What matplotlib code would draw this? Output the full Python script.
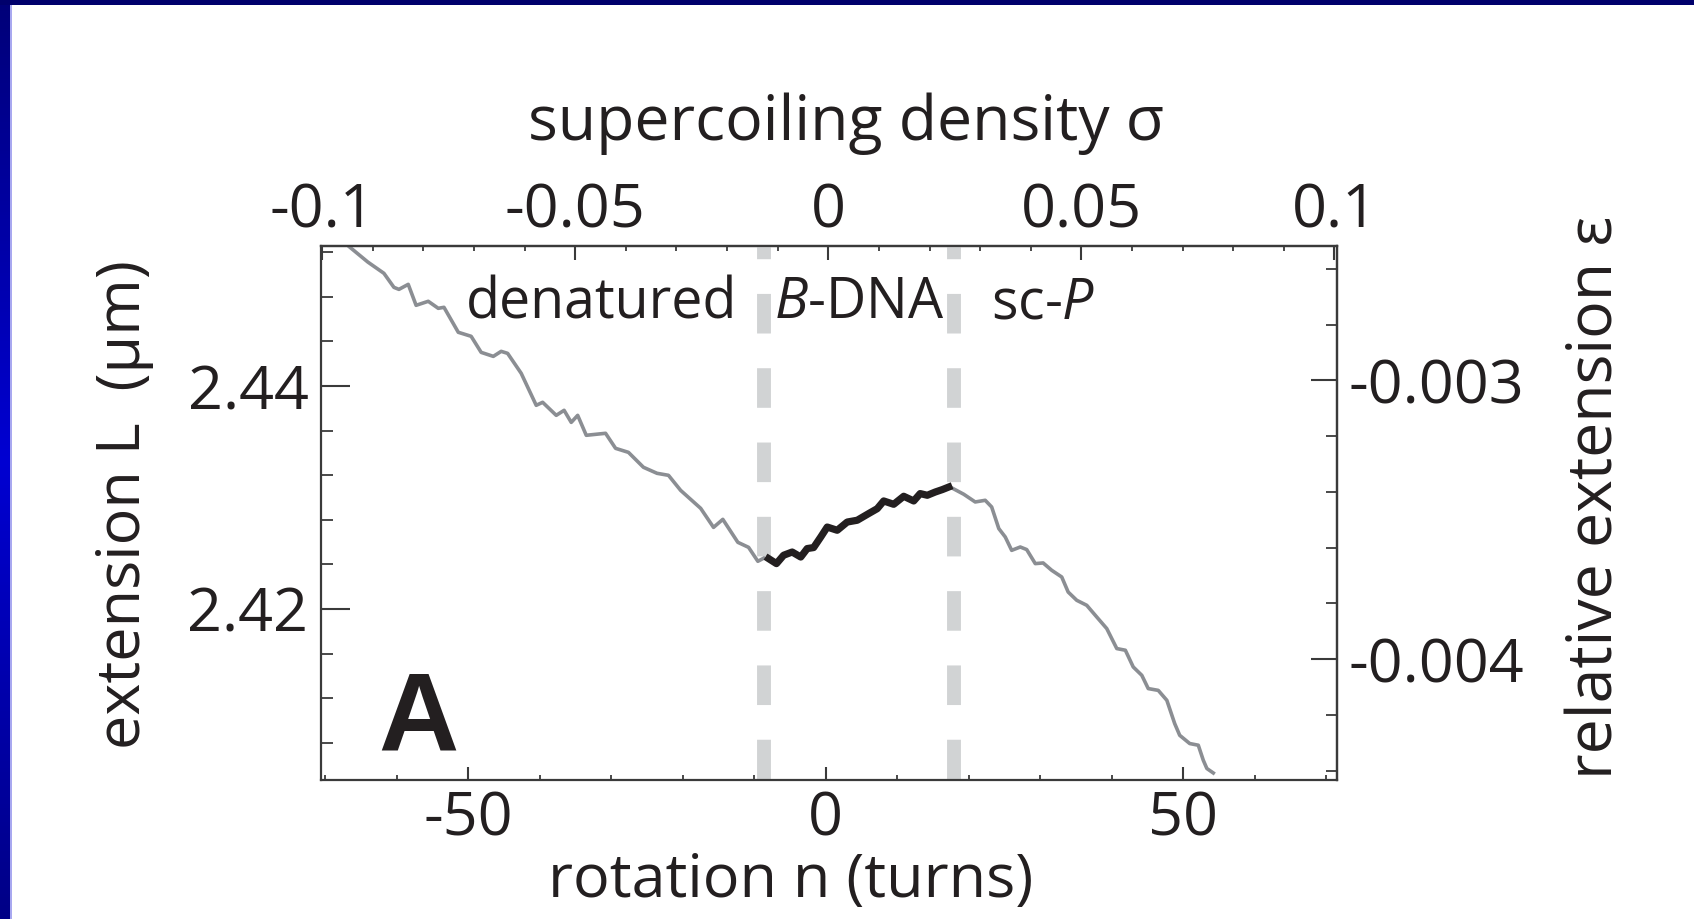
import matplotlib.pyplot as plt
import numpy as np
from matplotlib.colors import LinearSegmentedColormap
from matplotlib.patches import Rectangle
from matplotlib.ticker import MultipleLocator

plt.rcParams['font.family'] = ['Open Sans', 'DejaVu Sans']
plt.rcParams['axes.unicode_minus'] = False
plt.rcParams['mathtext.fontset'] = 'custom'
plt.rcParams['mathtext.rm'] = 'Open Sans'
plt.rcParams['mathtext.it'] = 'Open Sans:italic'

# rotation n (turns) vs extension L (um)
n_denat = [-66.6, -64.05, -61.8, -60.4, -59.7, -58.4, -57.3, -55.6, -54.2, -53.4,
           -51.4, -49.6, -48.2, -46.5, -45.4, -44.5, -42.6, -40.5, -39.6, -37.7,
           -36.6, -35.6, -34.7, -33.5, -30.8, -29.4, -27.6, -25.5, -23.6, -22.0,
           -20.3, -17.5, -15.7, -14.4, -12.3, -10.8, -9.5, -8.7]
L_denat = [2.45247, 2.45112, 2.45011, 2.44885, 2.44867, 2.44912, 2.44724, 2.44760,
           2.44697, 2.44706, 2.44482, 2.44446, 2.44302, 2.44266, 2.44311, 2.44293,
           2.44114, 2.43827, 2.43854, 2.43737, 2.43782, 2.43674, 2.43737, 2.43558,
           2.43576, 2.43441, 2.43405, 2.43271, 2.43217, 2.43199, 2.43064, 2.42903,
           2.42732, 2.42804, 2.42598, 2.42553, 2.42428, 2.42455]

n_bdna = [-8.0, -6.9, -5.9, -4.7, -3.5, -2.6, -1.7, -0.7, 0.2, 1.6, 3.0, 4.4, 6.0,
          7.2, 8.1, 9.5, 10.9, 12.3, 13.2, 14.2, 15.3, 16.3, 17.2]
L_bdna = [2.42452, 2.42407, 2.42482, 2.42511, 2.42466, 2.42542, 2.42551, 2.42646,
          2.42735, 2.42706, 2.42780, 2.42796, 2.42856, 2.42900, 2.42969, 2.42939,
          2.43011, 2.42969, 2.43035, 2.43020, 2.43049, 2.43071, 2.43094]

n_scp = [17.4, 19.3, 20.9, 22.3, 23.2, 24.2, 25.1, 26.0, 27.2, 28.1, 29.3, 30.4,
         31.6, 33.0, 33.9, 35.1, 36.5, 37.9, 39.3, 40.7, 41.9, 43.0, 44.2, 45.1,
         46.5, 47.7, 48.8, 49.5, 50.9, 52.1, 52.8, 53.3, 54.2]
L_scp = [2.43094, 2.43029, 2.42960, 2.42975, 2.42915, 2.42721, 2.42646, 2.42526,
         2.42556, 2.42533, 2.42407, 2.42413, 2.42347, 2.42287, 2.42152, 2.42078,
         2.42033, 2.41928, 2.41824, 2.41645, 2.41630, 2.41480, 2.41405, 2.41286,
         2.41270, 2.41181, 2.40972, 2.40867, 2.40793, 2.40778, 2.40643, 2.40569,
         2.40529]

phase_bounds = [-8.6, 18.0]
phase_names = ['denatured', r'$\mathit{B}$-DNA', r'sc-$\mathit{P}$']
phase_label_x = [0.2766, 0.5295, 0.7106]

sigma_ticks = [-0.1, -0.05, 0, 0.05, 0.1]
sigma_labels = ['-0.1', '-0.05', '0', '0.05', '0.1']
eps_ticks = [-0.003, -0.004]
eps_labels = ['-0.003', '-0.004']


def n_to_sigma(n):
    return (np.asarray(n) - 0.35) / 708.0


def sigma_to_n(s):
    return np.asarray(s) * 708.0 + 0.35


def L_to_eps(L):
    return 0.04 * (np.asarray(L) - 2.5155)


def eps_to_L(e):
    return np.asarray(e) / 0.04 + 2.5155


ink = '#231f20'
W, H = 1694, 919
fig = plt.figure(figsize=(W / 100, H / 100), dpi=100)
fig.patch.set_facecolor('white')

ax = fig.add_axes([321 / W, 1 - 780 / H, 1016 / W, 534 / H])
ax.set_xlim(-70.6, 71.5)
ax.set_ylim(2.40466, 2.45256)

# phase boundaries
for xb in phase_bounds:
    ax.plot([xb, xb], [1, 0], transform=ax.get_xaxis_transform(),
            color='#d1d3d4', lw=10, linestyle=(1.9, (2.85, 2.5)),
            solid_capstyle='butt', dash_capstyle='butt', zorder=1)

ax.plot(n_denat, L_denat, color='#8b8e93', lw=2.6, zorder=2)
ax.plot(n_scp, L_scp, color='#8b8e93', lw=2.6, zorder=2)
ax.plot(n_bdna, L_bdna, color=ink, lw=5.2, zorder=3)

for name, xp in zip(phase_names, phase_label_x):
    ax.text(xp, 0.865, name, transform=ax.transAxes, ha='center',
            va='baseline', fontsize=40, color=ink)

ax.text(0.056, 0.056, 'A', transform=ax.transAxes, ha='left', va='baseline',
        fontsize=80, fontweight='bold', color=ink,
        family=['Liberation Sans Narrow', 'Liberation Sans', 'DejaVu Sans'])

for sp in ax.spines.values():
    sp.set_color('#3a3a3a')
    sp.set_linewidth(1.6)

ax.set_xticks([-50, 0, 50])
ax.xaxis.set_minor_locator(MultipleLocator(10))
ax.set_yticks([2.42, 2.44])
ax.set_yticklabels(['2.42', '2.44'])
ax.yaxis.set_minor_locator(MultipleLocator(0.004))
ax.tick_params(axis='x', which='major', direction='in', length=9.5, width=1.5,
               pad=7, labelsize=44, labelcolor=ink, color='#3a3a3a')
ax.tick_params(axis='x', which='minor', direction='in', length=3.6, width=1.3,
               color='#3a3a3a')
ax.tick_params(axis='y', which='major', direction='in', length=21, width=1.5,
               pad=9, labelsize=44, labelcolor=ink, color='#3a3a3a')
ax.tick_params(axis='y', which='minor', direction='in', length=8.5, width=1.3,
               color='#3a3a3a')

ax.set_xlabel('rotation n (turns)', fontsize=44, color=ink, va='center')
ax.xaxis.set_label_coords(0.4626, -0.19)
ax.set_ylabel('extension L  (µm)', fontsize=44, color=ink, va='center')
ax.yaxis.set_label_coords(-0.194, 0.515)

top = ax.secondary_xaxis('top', functions=(n_to_sigma, sigma_to_n))
top.set_xticks(sigma_ticks, sigma_labels)
top.xaxis.set_minor_locator(MultipleLocator(0.01))
top.tick_params(which='major', direction='in', length=10, width=1.5, pad=3,
                labelsize=44, labelcolor=ink, color='#3a3a3a')
top.tick_params(which='minor', direction='in', length=3.6, width=1.3,
                color='#3a3a3a')
top.spines['top'].set_color('#3a3a3a')
top.spines['top'].set_linewidth(1.6)
top.set_xlabel('supercoiling density σ', fontsize=45, color=ink, va='center')
top.xaxis.set_label_coords(0.517, 1.228, transform=ax.transAxes)

right = ax.secondary_yaxis('right', functions=(L_to_eps, eps_to_L))
right.set_yticks(eps_ticks, eps_labels)
right.yaxis.set_minor_locator(MultipleLocator(0.0002))
right.tick_params(which='major', direction='in', length=18.5, width=1.5, pad=8,
                  labelsize=44, labelcolor=ink, color='#3a3a3a')
right.tick_params(which='minor', direction='in', length=8, width=1.3,
                  color='#3a3a3a')
right.spines['right'].set_color('#3a3a3a')
right.spines['right'].set_linewidth(1.6)
right.set_ylabel('relative extension ε', fontsize=45, color=ink, va='center',
                 rotation=90)
right.yaxis.set_label_coords(1.255, 0.53, transform=ax.transAxes)

# slide frame: blue strip on the left, dark band on top
frame_cmap = LinearSegmentedColormap.from_list(
    'frame', ['#000078', '#0000d2', '#000086'])
strip = fig.add_axes([0, 0, 10 / W, 1])
strip.imshow(np.linspace(0, 1, 256).reshape(-1, 1), cmap=frame_cmap,
             aspect='auto')
strip.set_axis_off()
fig.add_artist(Rectangle((10 / W, 0), 1.5 / W, 1, transform=fig.transFigure,
                         color='#a8a8f0', lw=0))
fig.add_artist(Rectangle((0, 1 - 5 / H), 1, 5 / H, transform=fig.transFigure,
                         color='#00006c', lw=0))

fig.savefig('out.png', dpi=100)
